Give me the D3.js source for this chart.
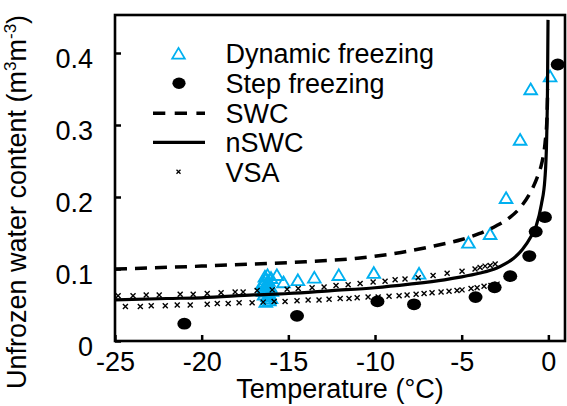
<!DOCTYPE html>
<meta charset="utf-8">
<script src="https://d3js.org/d3.v7.min.js"></script>
<style>
  body { margin: 0; background: #fff; }
  svg { font-family: "Liberation Sans", Arial, sans-serif; }
  .tick text { font-size: 27px; fill: #000; }
</style>
<svg id="chart" width="567" height="406"></svg>
<script>
// temperature (C) / unfrozen water content (m3/m3)
var dynT = [0.1, -1.02, -1.63, -2.44, -3.36, -4.61, -7.46, -10.07, -12.09, -13.5, -14.45, -15.28, -15.66,
            -16.2, -16.0, -16.3, -16.4, -16.3, -16.4, -16.2, -16.3, -16.1, -16.2, -16.0, -16.1, -16.3,
            -16.5, -16.45, -16.35, -16.15, -16.05, -15.95, -16.25, -16.4];
var dynW = [0.368, 0.35, 0.28, 0.199, 0.149, 0.137, 0.094, 0.095, 0.092, 0.0885, 0.085, 0.082, 0.092,
            0.092, 0.088, 0.086, 0.082, 0.078, 0.075, 0.072, 0.069, 0.066, 0.063, 0.060, 0.057, 0.055,
            0.080, 0.070, 0.090, 0.084, 0.076, 0.070, 0.080, 0.065];

var stepT = [0.54, -0.2, -0.73, -1.1, -2.2, -3.1, -4.2, -7.75, -9.86, -14.5, -21.0];
var stepW = [0.384, 0.172, 0.152, 0.118, 0.090, 0.0745, 0.061, 0.051, 0.055, 0.035, 0.024];

var swcT = [-25, -20, -17, -14, -11, -8.5, -6.6, -5, -4, -3, -2.2, -1.6, -1, -0.6, -0.38, -0.19, -0.08, -0.04];
var swcW = [0.100, 0.104, 0.107, 0.110, 0.115, 0.123, 0.132, 0.141, 0.149, 0.160, 0.172, 0.186, 0.208, 0.230, 0.247, 0.275, 0.31, 0.35];

var nswcT = [-25, -22, -20, -17, -15, -12.5, -10, -8, -6, -5, -4, -3, -2.5, -2, -1.5, -1, -0.7, -0.4, -0.2, -0.1, -0.05, -0.02];
var nswcW = [0.057, 0.059, 0.060, 0.064, 0.066, 0.070, 0.074, 0.079, 0.085, 0.089, 0.094, 0.101, 0.107, 0.115, 0.127, 0.145, 0.160, 0.19, 0.225, 0.28, 0.35, 0.446];

var vsaUpperT = [-24.82, -23.96, -23.2, -22.45, -21.24, -20.49, -19.68, -18.88, -18.07, -17.61, -16.8, -15.93, -15.07, -14.43,
                 -13.63, -12.94, -12.25, -11.55, -10.86, -10.11, -9.42, -8.84, -8.27, -7.51, -6.65, -5.84, -4.98, -4.23,
                 -3.94, -3.65, -3.36, -3.07];
var vsaUpperW = [0.063, 0.063, 0.064, 0.064, 0.065, 0.065, 0.066, 0.067, 0.068, 0.068, 0.070, 0.071, 0.072, 0.073,
                 0.074, 0.075, 0.077, 0.078, 0.080, 0.082, 0.083, 0.085, 0.086, 0.088, 0.091, 0.094, 0.097, 0.100,
                 0.102, 0.104, 0.105, 0.107];
var vsaLowerT = [-24.4, -23.54, -22.91, -22.1, -21.41, -20.66, -19.68, -19.1, -18.47, -17.84, -17.09, -16.45, -15.82, -15.19,
                 -14.5, -13.86, -13.23, -12.65, -12.01, -11.5, -11.03, -10.4, -9.82, -9.19, -8.61, -8.15, -7.63, -7.17,
                 -6.71, -6.19, -5.73, -5.27, -4.98, -4.46, -4.11, -3.71, -3.31, -2.96];
var vsaLowerW = [0.048, 0.048, 0.049, 0.049, 0.050, 0.050, 0.051, 0.052, 0.052, 0.053, 0.053, 0.054, 0.055, 0.055,
                 0.056, 0.057, 0.057, 0.058, 0.059, 0.059, 0.060, 0.061, 0.061, 0.062, 0.063, 0.064, 0.065, 0.066,
                 0.067, 0.068, 0.069, 0.070, 0.071, 0.073, 0.074, 0.076, 0.077, 0.079];

var xTicks = [-25, -20, -15, -10, -5, 0];
var yTicks = [0, 0.1, 0.2, 0.3, 0.4];
var legendNames = ["Dynamic freezing", "Step freezing", "SWC", "nSWC", "VSA"];

var blue = "#00b0f0";
var pLeft = 115, pRight = 565, pTop = 15, pBottom = 341;

var svg = d3.select("#chart");
var x = d3.scaleLinear().domain([-25, 1]).range([pLeft, pRight + 0.7]);
var y = d3.scaleLinear().domain([0, 0.45]).range([pBottom, 17]);

function zip(a, b) { return a.map(function(v, i) { return [v, b[i]]; }); }

var tri = "M0,-5.4L6.3,5.3L-6.3,5.3Z";
function cross(s) { return "M" + -s + "," + -s + "L" + s + "," + s + "M" + s + "," + -s + "L" + -s + "," + s; }

// axes (ticks point inward)
var xAxis = svg.append("g").attr("transform", "translate(0," + pBottom + ")")
  .call(d3.axisBottom(x).tickValues(xTicks).tickSize(-6).tickPadding(10.5)
    .tickFormat(function(d) { return String(d); }));
var yAxis = svg.append("g").attr("transform", "translate(" + pLeft + ",0)")
  .call(d3.axisLeft(y).tickValues(yTicks).tickSize(-6).tickPadding(22)
    .tickFormat(function(d) { return d === 0 ? "0" : d3.format(".1f")(d); }));
svg.selectAll(".domain").remove();
svg.selectAll(".tick line").attr("stroke", "#000").attr("stroke-width", 2.5);
svg.selectAll(".tick text").attr("font-family", null).attr("font-size", null);
yAxis.selectAll(".tick text").attr("dy", "0.52em");

// data
svg.append("g").selectAll("path").data(zip(dynT, dynW)).join("path")
  .attr("d", tri)
  .attr("transform", function(d) { return "translate(" + x(d[0]) + "," + y(d[1]) + ")"; })
  .attr("fill", "none").attr("stroke", blue).attr("stroke-width", 1.9);

svg.append("g").selectAll("ellipse").data(zip(stepT, stepW)).join("ellipse")
  .attr("cx", function(d) { return x(d[0]); })
  .attr("cy", function(d) { return y(d[1]); })
  .attr("rx", 7).attr("ry", 5.9).attr("fill", "#000");

var line = d3.line()
  .x(function(d) { return x(d[0]); })
  .y(function(d) { return y(d[1]); })
  .curve(d3.curveMonotoneX);

svg.append("path").datum(zip(swcT, swcW)).attr("d", line)
  .attr("fill", "none").attr("stroke", "#000").attr("stroke-width", 3.5).attr("stroke-dasharray", "12,8");
svg.append("path").datum(zip(nswcT, nswcW)).attr("d", line)
  .attr("fill", "none").attr("stroke", "#000").attr("stroke-width", 3.2);

svg.append("g").selectAll("path").data(zip(vsaUpperT, vsaUpperW).concat(zip(vsaLowerT, vsaLowerW))).join("path")
  .attr("d", cross(2.5))
  .attr("transform", function(d) { return "translate(" + x(d[0]) + "," + y(d[1]) + ")"; })
  .attr("fill", "none").attr("stroke", "#000").attr("stroke-width", 1.4);

// frame
svg.append("rect").attr("x", pLeft).attr("y", pTop)
  .attr("width", pRight - pLeft).attr("height", pBottom - pTop)
  .attr("fill", "none").attr("stroke", "#000").attr("stroke-width", 2.6);

// legend
var lg = svg.append("g");
var ly = [53.3, 83.3, 113.3, 142.3, 171.7];
lg.append("path").attr("d", tri).attr("transform", "translate(178.5," + ly[0] + ")")
  .attr("fill", "none").attr("stroke", blue).attr("stroke-width", 1.8);
lg.append("ellipse").attr("cx", 179).attr("cy", ly[1]).attr("rx", 6.6).attr("ry", 5.7).attr("fill", "#000");
lg.append("line").attr("x1", 153).attr("x2", 205).attr("y1", ly[2]).attr("y2", ly[2])
  .attr("stroke", "#000").attr("stroke-width", 3.5).attr("stroke-dasharray", "12.3,9.4");
lg.append("line").attr("x1", 153).attr("x2", 205).attr("y1", ly[3]).attr("y2", ly[3])
  .attr("stroke", "#000").attr("stroke-width", 3.2);
lg.append("path").attr("d", cross(2)).attr("transform", "translate(178.5," + ly[4] + ")")
  .attr("stroke", "#000").attr("stroke-width", 1.3);
lg.selectAll("text").data(legendNames).join("text")
  .attr("x", 225.5)
  .attr("y", function(d, i) { return ly[i] + 10; })
  .attr("font-size", 27)
  .text(function(d) { return d; });

// axis titles
svg.append("text").attr("x", (pLeft + pRight) / 2).attr("y", 398)
  .attr("text-anchor", "middle").attr("font-size", 27).text("Temperature (\u00B0C)");

var yt = svg.append("text").attr("transform", "translate(26,202) rotate(-90)")
  .attr("text-anchor", "middle").attr("font-size", 27);
yt.append("tspan").text("Unfrozen water content (m");
yt.append("tspan").attr("font-size", 17).attr("dy", -10).text("3");
yt.append("tspan").attr("dy", 10).text("m");
yt.append("tspan").attr("font-size", 17).attr("dy", -10).text("-3");
yt.append("tspan").attr("dy", 10).text(")");
</script>
